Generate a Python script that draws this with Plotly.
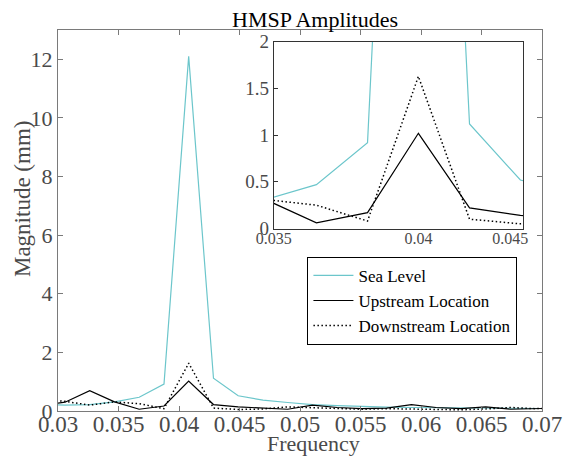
import plotly.graph_objects as go

# frequency bins (cycles per hour)
freq = [0.02853, 0.03058, 0.03262, 0.03467, 0.03671, 0.03876, 0.0408, 0.04285,
        0.04489, 0.04694, 0.04898, 0.05103, 0.05307, 0.05512, 0.05716, 0.05921,
        0.06125, 0.0633, 0.06534, 0.06739, 0.06943, 0.07148]

sea_level = [0.22, 0.2, 0.22, 0.31, 0.47, 0.92, 12.1, 1.12, 0.52, 0.37, 0.29,
             0.22, 0.18, 0.15, 0.13, 0.12, 0.11, 0.1, 0.09, 0.09, 0.08, 0.08]
upstream = [0.2, 0.3, 0.69, 0.31, 0.06, 0.17, 1.02, 0.22, 0.14, 0.1, 0.06,
            0.2, 0.12, 0.08, 0.1, 0.22, 0.12, 0.08, 0.14, 0.06, 0.07, 0.1]
downstream = [0.4, 0.33, 0.2, 0.31, 0.25, 0.08, 1.63, 0.1, 0.05, 0.07, 0.14,
              0.12, 0.08, 0.06, 0.08, 0.06, 0.05, 0.04, 0.07, 0.12, 0.08, 0.1]

main_xticks = [0.03, 0.035, 0.04, 0.045, 0.05, 0.055, 0.06, 0.065, 0.07]
main_yticks = [0, 2, 4, 6, 8, 10, 12]
inset_xticks = [0.035, 0.0408, 0.04448]
inset_xtext = ['0.035', '0.04', '0.045']
inset_yticks = [0, 0.5, 1, 1.5, 2]

CYAN = '#6cc6cb'
SERIF = 'Liberation Serif'
AXIS_GRAY = '#7a7a7a'
TICK_GRAY = '#4a4a4a'
DOTS = '1.5px,2.5px'

fig = go.Figure()

# main axes
fig.add_trace(go.Scatter(x=freq, y=sea_level, name='Sea Level', mode='lines',
                         line=dict(color=CYAN, width=1.2)))
fig.add_trace(go.Scatter(x=freq, y=upstream, name='Upstream Location', mode='lines',
                         line=dict(color='black', width=1.2)))
fig.add_trace(go.Scatter(x=freq, y=downstream, name='Downstream Location', mode='lines',
                         line=dict(color='black', width=1.5, dash=DOTS)))

# inset (zoom on the peak)
fig.add_trace(go.Scatter(x=freq, y=sea_level, mode='lines', showlegend=False,
                         line=dict(color=CYAN, width=1.2), xaxis='x2', yaxis='y2'))
fig.add_trace(go.Scatter(x=freq, y=upstream, mode='lines', showlegend=False,
                         line=dict(color='black', width=1.2), xaxis='x2', yaxis='y2'))
fig.add_trace(go.Scatter(x=freq, y=downstream, mode='lines', showlegend=False,
                         line=dict(color='black', width=1.5, dash=DOTS), xaxis='x2', yaxis='y2'))

# page body margin is 8px, keep the figure inside the window (no scrollbars)
OFF = 8
W, H = 566, 448
L, R, T, B = 50, 27, 19, 45
pw, ph = W - L - R, H - T - B


def to_paper(sx, sy):
    # window pixel -> paper coords
    return (sx - OFF - L) / pw, (H - B - (sy - OFF)) / ph


fig.update_layout(
    width=W, height=H,
    margin=dict(l=L, r=R, t=T, b=B),
    paper_bgcolor='white', plot_bgcolor='white',
    font=dict(family=SERIF, color=TICK_GRAY),
    xaxis=dict(range=[0.03, 0.07], tickvals=main_xticks,
               ticktext=[f'{v:g}' for v in main_xticks],
               ticks='inside', ticklen=5, tickcolor=AXIS_GRAY,
               showline=True, linecolor=AXIS_GRAY, linewidth=1, mirror='ticks',
               showgrid=False, zeroline=False, ticklabelstandoff=-8,
               ticklabeloverflow='allow',
               tickfont=dict(family=SERIF, size=23, color=TICK_GRAY)),
    yaxis=dict(range=[0, 13], tickvals=main_yticks,
               ticks='inside', ticklen=5, tickcolor=AXIS_GRAY,
               showline=True, linecolor=AXIS_GRAY, linewidth=1, mirror='ticks',
               showgrid=False, zeroline=False,
               tickfont=dict(family=SERIF, size=22, color=TICK_GRAY)),
    xaxis2=dict(domain=[0.4458, 0.961], anchor='y2', range=[0.035, 0.045],
                tickvals=inset_xticks, ticktext=inset_xtext,
                ticks='', showline=True, linecolor='#333333', linewidth=1, mirror=True,
                showgrid=False, zeroline=False, ticklabelstandoff=-5,
                tickfont=dict(family=SERIF, size=16, color=TICK_GRAY)),
    yaxis2=dict(domain=[0.479, 0.969], anchor='x2', range=[0, 2],
                tickvals=inset_yticks, ticktext=['0', '0.5', '1', '1.5', '2'],
                ticks='inside', ticklen=4, tickcolor='#333333',
                showline=True, linecolor='#333333', linewidth=1, mirror=True,
                showgrid=False, zeroline=False,
                tickfont=dict(family=SERIF, size=19, color=TICK_GRAY)),
    legend=dict(x=to_paper(310, 0)[0], y=to_paper(0, 300)[1],
                xanchor='left', yanchor='middle',
                bgcolor='white', bordercolor='black', borderwidth=1,
                font=dict(family=SERIF, size=17, color='black'),
                tracegroupgap=0, itemwidth=40),
)

titles = [
    ('HMSP Amplitudes', 318, 16, 0, 22, 'black'),
    ('Frequency', 316, 444, 0, 22, TICK_GRAY),
    ('Magnitude (mm)', 22, 197, -90, 23, TICK_GRAY),
]
for text, sx, sy, angle, size, color in titles:
    px, py = to_paper(sx, sy)
    fig.add_annotation(text=text, x=px, y=py, xref='paper', yref='paper',
                       xanchor='center', yanchor='middle', textangle=angle,
                       showarrow=False, font=dict(family=SERIF, size=size, color=color))

fig.write_html("out.html")
